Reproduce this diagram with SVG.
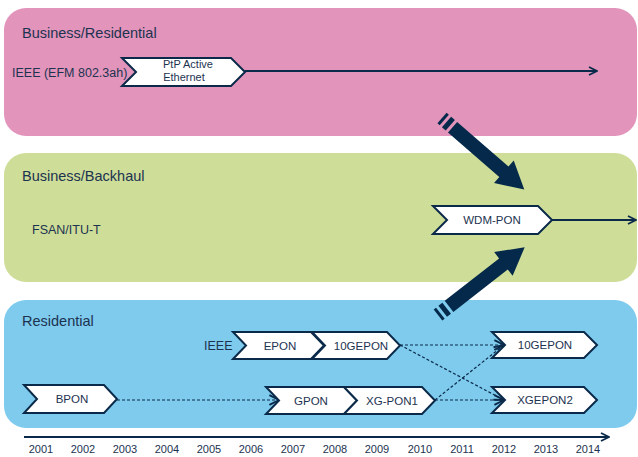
<svg xmlns="http://www.w3.org/2000/svg" width="638" height="457" viewBox="0 0 638 457">
<defs>
<style>
text{font-family:"Liberation Sans",Arial,sans-serif;fill:#1c3350}
.title{font-size:14.5px}
.lbl{font-size:12.5px}
.chev{font-size:11.5px;text-anchor:middle}
.yr{font-size:11px;text-anchor:middle}
.shape{fill:#ffffff;stroke:#0b2a4a;stroke-width:2}
.solid{fill:none;stroke:#0b2a4a;stroke-width:2}
.dash{fill:none;stroke:#0b2a4a;stroke-width:1.2;stroke-dasharray:3,2}
.big{fill:#04294b}
</style>
<marker id="open" viewBox="0 0 10 10" refX="9" refY="5" markerWidth="10" markerHeight="10" markerUnits="userSpaceOnUse" orient="auto">
<path d="M1,1 L9,5 L1,9" fill="none" stroke="#0b2a4a" stroke-width="1.8"/>
</marker>
<marker id="openS" viewBox="0 0 10 10" refX="9" refY="5" markerWidth="12" markerHeight="12" markerUnits="userSpaceOnUse" orient="auto">
<path d="M1,1 L9,5 L1,9" fill="none" stroke="#0b2a4a" stroke-width="1.6"/>
</marker>
</defs>
<rect width="638" height="457" fill="#ffffff"/>
<g id="band-business-residential">
<rect x="4" y="8" width="633" height="128" rx="22" fill="#e294bb"/>
<text class="title" x="22" y="38">Business/Residential</text>
<text class="lbl" x="12" y="77">IEEE (EFM 802.3ah)</text>
</g>
<g id="band-business-backhaul">
<rect x="4" y="153" width="633" height="129" rx="22" fill="#cedd98"/>
<text class="title" x="22" y="181">Business/Backhaul</text>
<text class="lbl" x="32" y="234">FSAN/ITU-T</text>
</g>
<g id="band-residential">
<rect x="4" y="300" width="633" height="128" rx="22" fill="#7ecbee"/>
<text class="title" x="22" y="326">Residential</text>
<text class="lbl" x="204" y="350">IEEE</text>
</g>
<g id="connectors">
<line class="solid" x1="245" y1="71" x2="597" y2="71" marker-end="url(#open)"/>
<line class="solid" x1="552" y1="220" x2="636" y2="220" marker-end="url(#open)"/>
<line class="dash" x1="117" y1="400" x2="279" y2="400" marker-end="url(#openS)"/>
<line class="dash" x1="400" y1="345" x2="504" y2="345" marker-end="url(#openS)"/>
<line class="dash" x1="400" y1="345" x2="504" y2="400" marker-end="url(#openS)"/>
<line class="dash" x1="435" y1="400" x2="504" y2="400" marker-end="url(#openS)"/>
<line class="dash" x1="435" y1="400" x2="504" y2="345" marker-end="url(#openS)"/>
<line class="solid" x1="24" y1="437" x2="609" y2="437" marker-end="url(#open)"/>
<g class="big" transform="translate(442,118) rotate(41)">
<rect x="0" y="-7" width="3" height="14"/>
<rect x="6" y="-7" width="5" height="14"/>
<polygon points="14,-7 82,-7 82,-15 109,0 82,15 82,7 14,7"/>
</g>
<g class="big" transform="translate(438,315) rotate(-38)">
<rect x="0" y="-7" width="3" height="14"/>
<rect x="6" y="-7" width="5" height="14"/>
<polygon points="14,-7 83,-7 83,-15 110,0 83,15 83,7 14,7"/>
</g>
</g>
<g id="node-ptp">
<polygon class="shape" points="122,58 231,58 245,72 231,86 122,86 136,72"/>
<text class="chev" x="188" y="68" style="font-size:11px">PtP Active</text>
<text class="chev" x="184" y="81" style="font-size:11px">Ethernet</text>
</g>
<g id="node-wdm">
<polygon class="shape" points="433,206 538,206 552,220 538,234 433,234 447,220"/>
<text class="chev" x="492" y="224">WDM-PON</text>
</g>
<g id="node-epon">
<polygon class="shape" points="233,332 311,332 324,345.5 311,359 233,359 246,345.5"/>
<text class="chev" x="280" y="350">EPON</text>
</g>
<g id="node-10gepon-a">
<polygon class="shape" points="312,332 387,332 400,345.5 387,359 312,359 325,345.5"/>
<text class="chev" x="361" y="350">10GEPON</text>
</g>
<g id="node-bpon">
<polygon class="shape" points="24,385 104,385 117,399 104,413 24,413 37,399"/>
<text class="chev" x="72" y="403">BPON</text>
</g>
<g id="node-gpon">
<polygon class="shape" points="266,387 344,387 357,400.5 344,414 266,414 279,400.5"/>
<text class="chev" x="311" y="405">GPON</text>
</g>
<g id="node-xgpon1">
<polygon class="shape" points="344,387 422,387 435,400.5 422,414 344,414 357,400.5"/>
<text class="chev" x="392" y="405">XG-PON1</text>
</g>
<g id="node-10gepon-b">
<polygon class="shape" points="492,332 584,332 597,345 584,358 492,358 505,345"/>
<text class="chev" x="545" y="349">10GEPON</text>
</g>
<g id="node-xgepon2">
<polygon class="shape" points="492,387 584,387 597,400 584,413 492,413 505,400"/>
<text class="chev" x="545" y="404">XGEPON2</text>
</g>
<g id="years">
<text class="yr" x="41" y="453">2001</text>
<text class="yr" x="83" y="453">2002</text>
<text class="yr" x="125" y="453">2003</text>
<text class="yr" x="167" y="453">2004</text>
<text class="yr" x="209" y="453">2005</text>
<text class="yr" x="251" y="453">2006</text>
<text class="yr" x="293" y="453">2007</text>
<text class="yr" x="335" y="453">2008</text>
<text class="yr" x="377" y="453">2009</text>
<text class="yr" x="420" y="453">2010</text>
<text class="yr" x="462" y="453">2011</text>
<text class="yr" x="504" y="453">2012</text>
<text class="yr" x="546" y="453">2013</text>
<text class="yr" x="588" y="453">2014</text>
</g>
</svg>
